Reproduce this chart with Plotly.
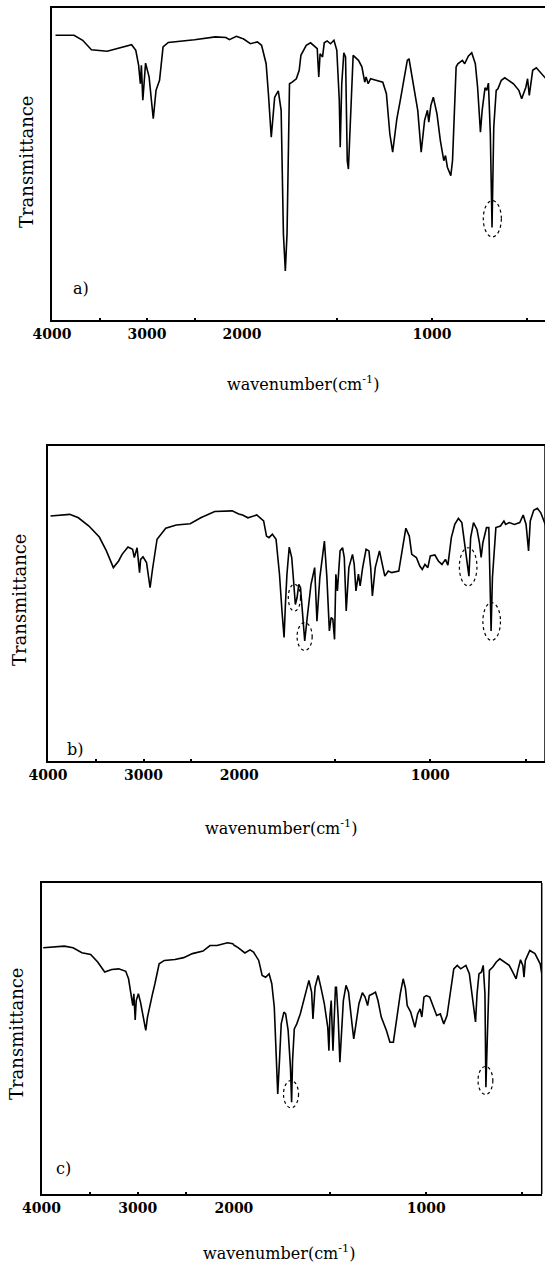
import plotly.graph_objects as go

# ---------------- data (wavenumber cm-1, transmittance %) ----------------
wn_a = [3963, 3768, 3677, 3585, 3419, 3162, 3118, 3088, 3070, 3059, 3044, 3015, 2978, 2934, 2905, 2868,
        2831, 2776, 2500, 2280, 2169, 2133, 2059, 1993, 1956, 1919, 1897, 1873, 1861, 1846, 1828, 1809,
        1794, 1782, 1772, 1763, 1750, 1736, 1714, 1699, 1690, 1662, 1639, 1617, 1604, 1596, 1589, 1576,
        1567, 1552, 1534, 1516, 1501, 1488, 1483, 1475, 1464, 1455, 1446, 1440, 1433, 1415, 1387, 1369,
        1354, 1347, 1336, 1323, 1295, 1259, 1240, 1222, 1207, 1194, 1185, 1167, 1149, 1130, 1121, 1094,
        1075, 1057, 1039, 1024, 1017, 1006, 993, 974, 956, 938, 929, 919, 901, 892, 873, 864, 840, 828,
        809, 791, 772, 760, 745, 736, 721, 712, 703, 693, 684, 675, 662, 653, 635, 617, 598, 571, 543,
        528, 506, 497, 488, 470, 451, 424, 400]
t_a = [91.1, 91.1, 89.5, 86.5, 86.0, 88.1, 86.3, 81.5, 75.6, 81.5, 70.3, 82.2, 77.8, 64.4, 73.5, 76.7,
       87.4, 88.8, 89.7, 90.6, 90.4, 89.7, 90.8, 90.0, 88.4, 89.0, 87.9, 82.0, 72.4, 58.5, 71.3, 73.3,
       67.1, 27.5, 15.7, 27.5, 75.6, 76.1, 77.2, 79.9, 84.7, 87.9, 88.7, 87.4, 86.8, 77.8, 85.2, 84.2,
       88.7, 89.3, 88.4, 89.5, 86.3, 70.3, 55.3, 75.6, 85.5, 84.2, 51.0, 48.3, 59.6, 84.7, 83.1, 81.0,
       76.1, 77.8, 75.6, 77.2, 76.7, 76.1, 72.4, 59.6, 53.7, 60.6, 64.4, 70.3, 76.7, 83.1, 83.6, 74.0,
       67.1, 53.7, 63.9, 67.1, 63.3, 68.7, 71.3, 66.0, 57.4, 51.0, 52.6, 48.9, 46.2, 51.0, 81.0, 82.0,
       83.1, 82.0, 84.4, 85.5, 82.0, 74.5, 60.1, 67.1, 74.3, 73.5, 75.8, 59.6, 29.6, 61.7, 73.5, 74.0,
       76.7, 77.5, 76.7, 75.6, 73.5, 70.8, 74.5, 77.2, 71.9, 79.9, 80.7, 78.8, 77.2]

wn_b = [3974, 3773, 3682, 3572, 3463, 3389, 3316, 3261, 3225, 3163, 3115, 3097, 3068, 3042, 3031, 3006,
        2969, 2932, 2907, 2859, 2768, 2658, 2512, 2402, 2256, 2073, 1982, 1954, 1908, 1872, 1857, 1844,
        1826, 1807, 1789, 1776, 1765, 1758, 1750, 1738, 1725, 1716, 1706, 1697, 1688, 1679, 1670, 1657,
        1642, 1624, 1605, 1593, 1578, 1563, 1554, 1541, 1528, 1519, 1510, 1501, 1494, 1486, 1472, 1459,
        1450, 1440, 1426, 1407, 1398, 1389, 1376, 1367, 1354, 1336, 1321, 1312, 1303, 1288, 1266, 1251,
        1238, 1220, 1202, 1165, 1147, 1128, 1110, 1097, 1073, 1055, 1042, 1028, 1013, 1000, 976, 958,
        939, 921, 908, 890, 872, 853, 835, 816, 798, 789, 774, 756, 743, 734, 725, 706, 694, 688, 682,
        675, 664, 657, 633, 615, 606, 587, 560, 532, 514, 499, 486, 477, 459, 440, 422, 404, 395]
t_b = [77.8, 78.3, 77.2, 74.6, 71.1, 66.7, 61.4, 63.5, 65.6, 67.9, 67.2, 64.6, 67.7, 59.8, 64.0, 64.8,
       63.0, 55.0, 60.8, 70.4, 73.9, 74.9, 75.3, 77.2, 79.2, 79.4, 78.1, 77.2, 78.1, 76.2, 71.4, 70.9,
       72.0, 70.4, 59.3, 47.6, 39.2, 49.7, 59.3, 67.9, 64.6, 57.7, 49.7, 51.9, 56.1, 55.0, 47.6, 38.1,
       46.6, 56.1, 61.4, 44.4, 58.2, 65.6, 69.8, 58.2, 41.3, 45.5, 45.0, 38.6, 59.3, 54.0, 66.7, 67.7,
       64.6, 47.6, 61.4, 65.6, 62.4, 54.0, 59.3, 55.6, 61.4, 67.2, 66.7, 61.4, 52.4, 61.4, 66.7, 62.4,
       58.7, 60.3, 59.8, 60.3, 67.7, 73.9, 71.4, 65.6, 64.6, 61.9, 60.8, 62.4, 61.4, 65.1, 65.4, 63.5,
       62.4, 64.0, 62.2, 70.9, 75.1, 77.0, 75.7, 66.7, 58.7, 70.9, 75.7, 73.5, 69.3, 64.6, 69.3, 74.1,
       74.1, 58.2, 41.3, 58.2, 68.8, 74.1, 74.6, 76.2, 75.1, 75.7, 75.1, 75.7, 78.1, 75.1, 66.7, 76.2,
       79.6, 80.2, 78.8, 76.2, 74.5]

wn_c = [3982, 3854, 3763, 3672, 3580, 3489, 3416, 3343, 3270, 3197, 3124, 3095, 3069, 3051, 3040, 3026,
        3015, 2993, 2971, 2942, 2916, 2898, 2876, 2850, 2821, 2777, 2723, 2613, 2522, 2431, 2321, 2248,
        2175, 2066, 2011, 1978, 1943, 1916, 1898, 1871, 1853, 1835, 1817, 1803, 1790, 1781, 1772, 1763,
        1754, 1740, 1731, 1718, 1706, 1700, 1695, 1686, 1673, 1655, 1637, 1619, 1610, 1596, 1589, 1578,
        1562, 1548, 1530, 1512, 1506, 1501, 1494, 1485, 1479, 1472, 1467, 1458, 1449, 1440, 1431, 1417,
        1404, 1386, 1377, 1368, 1350, 1332, 1318, 1305, 1296, 1278, 1264, 1251, 1234, 1207, 1189, 1171,
        1153, 1135, 1120, 1108, 1099, 1081, 1059, 1045, 1032, 1023, 1012, 1000, 982, 964, 946, 927, 909,
        892, 875, 857, 839, 821, 794, 776, 758, 744, 736, 726, 713, 704, 695, 690, 682, 672, 654, 636,
        618, 596, 569, 551, 533, 524, 510, 498, 492, 485, 462, 435, 408, 400, 396]
t_c = [79.2, 79.4, 79.7, 79.2, 77.6, 77.0, 74.6, 71.4, 72.2, 72.4, 71.6, 69.2, 64.4, 60.6, 64.4, 56.0,
       62.2, 64.4, 61.7, 56.9, 52.6, 56.9, 60.6, 63.8, 67.6, 74.0, 75.1, 75.4, 76.0, 77.3, 78.1, 79.9,
       79.9, 80.8, 80.5, 79.2, 77.5, 78.5, 77.8, 75.1, 70.3, 69.7, 70.8, 67.6, 60.1, 47.2, 32.2, 42.9,
       54.7, 58.5, 57.9, 52.6, 40.8, 29.5, 42.9, 53.1, 54.7, 57.9, 62.2, 67.1, 68.7, 64.9, 56.3, 66.5,
       70.3, 66.5, 61.2, 53.6, 46.1, 56.9, 62.2, 46.1, 55.8, 66.5, 66.5, 56.9, 42.4, 53.6, 62.2, 67.1,
       64.9, 54.7, 49.9, 53.6, 61.2, 64.7, 63.3, 60.6, 63.8, 64.4, 64.9, 62.2, 56.9, 52.6, 48.8, 48.8,
       56.9, 64.4, 69.2, 66.0, 60.6, 58.5, 53.6, 57.9, 59.5, 56.9, 63.3, 63.8, 63.3, 60.1, 57.4, 57.9,
       54.7, 57.4, 65.5, 72.4, 73.5, 72.4, 73.5, 70.8, 62.2, 55.3, 64.4, 70.8, 71.4, 73.5, 64.4, 34.3,
       51.5, 71.9, 73.0, 74.6, 75.6, 74.6, 73.5, 71.4, 69.2, 71.9, 75.3, 73.5, 69.7, 75.1, 78.3, 77.3,
       74.0, 71.0, 68.0]

# dashed ellipses marking bands: (wn_high, wn_low, t_low, t_high)
ellipses_a = [(730, 635, 26.6, 38.2)]
ellipses_b = [(1743, 1679, 47.6, 56.1), (1697, 1618, 35.1, 43.9), (848, 756, 55.6, 67.7), (725, 633, 38.3, 50.3)]
ellipses_c = [(1742, 1664, 27.7, 36.5), (731, 654, 32.0, 41.0)]

panel_letters = ["a)", "b)", "c)"]
x_title = "wavenumber(cm<sup>-1</sup>)"
y_title = "Transmittance"
left_ticks = [4000, 3000, 2000]
left_text = ["4000", "3000", "2000"]
right_ticks = [1000]
right_text = ["1000"]
minor_step = 500

# ---------------- layout geometry (pixels) ----------------
W, H = 545, 1269
FONT = "DejaVu Serif"
panels = [
    dict(L=52, R=546, top=7.5, bot=320, title=(303, 383), ytitle=(27, 162), letter=(81, 288)),
    dict(L=48, R=545, top=446, bot=761, title=(281, 827), ytitle=(19, 600), letter=(75, 749)),
    dict(L=41.5, R=541.7, top=883, bot=1194, title=(279, 1252), ytitle=(16, 1034), letter=(63, 1168)),
]
spectra = [(wn_a, t_a, ellipses_a), (wn_b, t_b, ellipses_b), (wn_c, t_c, ellipses_c)]


def fx(px):
    return px / W


def fy(px):
    return 1 - px / H


fig = go.Figure()
layout = dict(template="none", width=W, height=H, margin=dict(l=0, r=0, t=0, b=0, pad=0),
              paper_bgcolor="white", plot_bgcolor="white", showlegend=False,
              font=dict(family=FONT, color="black"))
shapes, annotations = [], []

for i, (p, (wn, tt, ells)) in enumerate(zip(panels, spectra)):
    xl = "x" if i == 0 else f"x{2 * i + 1}"
    xr = f"x{2 * i + 2}"
    yy = "y" if i == 0 else f"y{i + 1}"
    s = (p["R"] - p["L"]) / 5.2          # px per 1000 cm-1 above 2000
    S = p["L"] + 2 * s                    # pixel of 2000 cm-1
    Rc = min(p["R"], W)
    r_end = 2000 - (Rc - S) / (2 * s) * 1000

    # split series at 2000 cm-1 (neighbouring point kept so the line reaches the break)
    idx_hi = [k for k, w in enumerate(wn) if w >= 2000]
    last_hi = idx_hi[-1]
    left_idx = list(range(0, min(last_hi + 2, len(wn))))
    right_idx = list(range(last_hi, len(wn)))
    line = dict(color="black", width=1.6)
    fig.add_trace(go.Scatter(x=[wn[k] for k in left_idx], y=[tt[k] for k in left_idx], mode="lines",
                             line=line, xaxis=xl, yaxis=yy, hoverinfo="skip"))
    fig.add_trace(go.Scatter(x=[wn[k] for k in right_idx], y=[tt[k] for k in right_idx], mode="lines",
                             line=line, xaxis=xr, yaxis=yy, hoverinfo="skip"))

    common_x = dict(showline=True, linecolor="black", linewidth=1.5, mirror=True, showgrid=False,
                    zeroline=False, ticks="inside", ticklen=2, tickwidth=1.5, tickcolor="black",
                    tickfont=dict(family=FONT, size=14, color="black", weight="bold"),
                    minor=dict(ticks="inside", ticklen=2, tickwidth=1.5, tickcolor="black",
                               dtick=minor_step, tick0=0, showgrid=False),
                    anchor=yy, fixedrange=True, automargin=False)
    kl = "xaxis" if i == 0 else f"xaxis{2 * i + 1}"
    kr = f"xaxis{2 * i + 2}"
    ky = "yaxis" if i == 0 else f"yaxis{i + 1}"
    layout[kl] = dict(common_x, domain=[fx(p["L"]), fx(S)], range=[4000, 2000],
                      tickmode="array", tickvals=left_ticks, ticktext=left_text)
    layout[kr] = dict(common_x, domain=[fx(S), fx(Rc)], range=[2000, r_end],
                      tickmode="array", tickvals=right_ticks, ticktext=right_text)
    layout[ky] = dict(domain=[fy(p["bot"]), fy(p["top"])], range=[0, 100], anchor=xl,
                      showline=True, linecolor="black", linewidth=1.5, showgrid=False,
                      zeroline=False, showticklabels=False, ticks="", fixedrange=True,
                      automargin=False)

    if p["R"] <= W:
        shapes.append(dict(type="line", xref=f"{xr} domain", yref=f"{yy} domain",
                           x0=1, x1=1, y0=0, y1=1, line=dict(color="black", width=1.5)))
    for (w0, w1, t0, t1) in ells:
        ax = xl if w1 >= 2000 else xr
        shapes.append(dict(type="circle", xref=ax, yref=yy, x0=w0, x1=w1, y0=t0, y1=t1,
                           line=dict(color="black", width=1.2, dash="dot")))

    annotations.append(dict(text=x_title, x=fx(p["title"][0]), y=fy(p["title"][1]),
                            xref="paper", yref="paper", showarrow=False,
                            xanchor="center", yanchor="middle",
                            font=dict(family=FONT, size=16, color="black")))
    annotations.append(dict(text=y_title, x=fx(p["ytitle"][0]), y=fy(p["ytitle"][1]),
                            xref="paper", yref="paper", showarrow=False, textangle=-90,
                            xanchor="center", yanchor="middle",
                            font=dict(family=FONT, size=18, color="black")))
    annotations.append(dict(text=panel_letters[i], x=fx(p["letter"][0]), y=fy(p["letter"][1]),
                            xref="paper", yref="paper", showarrow=False,
                            xanchor="center", yanchor="middle",
                            font=dict(family=FONT, size=16, color="black")))

layout["shapes"] = shapes
layout["annotations"] = annotations
fig.update_layout(**layout)
fig.write_html("out.html")
